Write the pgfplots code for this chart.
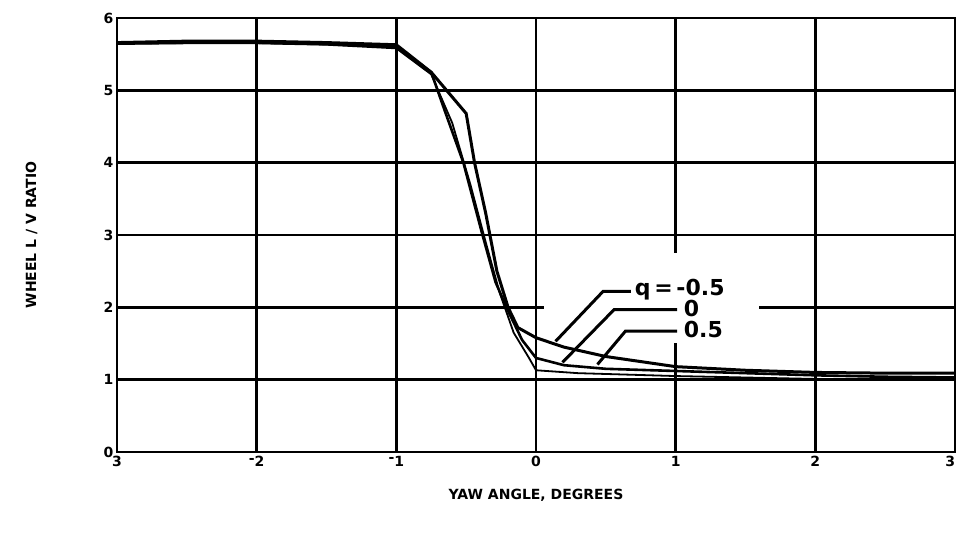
\documentclass[border=0pt]{standalone}
\usepackage{pgfplots}
\pgfplotsset{compat=1.18}
\usepackage{fontspec}
\setmainfont{DejaVu Sans}
\begin{document}
\begin{tikzpicture}
\useasboundingbox (-117pt,-85pt) rectangle (840pt,452pt);
\begin{axis}[
  scale only axis, width=838pt, height=434pt,
  at={(0,0)}, anchor=south west,
  xmin=-3, xmax=3, ymin=0, ymax=6,
  xtick={-3,-2,-1,0,1,2,3},
  xticklabels={3,\raisebox{0.5ex}{-}2,\raisebox{0.5ex}{-}1,0,1,2,\llap{3}},
  ytick={0,1,2,3,4,5,6},
  /pgf/number format/assume math mode=true,
  ticklabel style={font=\fontsize{14}{16}\selectfont\bfseries},
  xticklabel style={yshift=-1pt},
  grid=major, major grid style={black, line width=2.6pt},
  axis line style={black, line width=2.8pt},
  tick style={draw=none},
  xlabel={YAW ANGLE, DEGREES},
  ylabel={WHEEL L / V RATIO},
  label style={font=\fontsize{14}{16}\selectfont\bfseries},
  xlabel style={at={(axis description cs:0.5,0)}, anchor=north, yshift=-34pt},
  ylabel style={at={(axis description cs:0,0.5)}, anchor=south, yshift=76pt},
  clip=false,
]
% white area behind the annotation (grid is broken there)
\fill[white] (axis cs:0.06,1.5) rectangle (axis cs:1.6,2.75);
% q = -0.5
\addplot[black, line width=3pt] coordinates {
(-3,5.66) (-2.5,5.68) (-2,5.68) (-1.5,5.66) (-1,5.63) (-0.75,5.25) (-0.5,4.68)
(-0.44,4.0) (-0.36,3.3) (-0.28,2.5) (-0.2,2.0) (-0.13,1.72) (0,1.58) (0.2,1.45)
(0.5,1.32) (1,1.18) (1.5,1.13) (2,1.1) (2.5,1.09) (3,1.09)};
% q = 0
\addplot[black, line width=2.6pt] coordinates {
(-3,5.65) (-2.5,5.66) (-2,5.66) (-1.5,5.64) (-1,5.6) (-0.75,5.25) (-0.65,4.7)
(-0.52,4.0) (-0.39,3.05) (-0.29,2.35) (-0.2,1.95) (-0.1,1.55) (0,1.3) (0.2,1.2)
(0.5,1.15) (1,1.12) (1.5,1.09) (2,1.06) (2.5,1.04) (3,1.03)};
% q = 0.5
\addplot[black, line width=1.8pt] coordinates {
(-3,5.64) (-2.5,5.65) (-2,5.65) (-1.5,5.63) (-1,5.58) (-0.75,5.22) (-0.6,4.55)
(-0.47,3.7) (-0.36,2.9) (-0.26,2.2) (-0.16,1.65) (-0.05,1.3) (0,1.13) (0.3,1.09)
(1,1.05) (1.5,1.03) (2,1.01) (2.5,1.0) (3,1.0)};
% labels
\draw[black, line width=3pt] (axis cs:0.68,2.22) -- (axis cs:0.48,2.22) -- (axis cs:0.14,1.53);
\draw[black, line width=3pt] (axis cs:1.01,1.97) -- (axis cs:0.56,1.97) -- (axis cs:0.19,1.24);
\draw[black, line width=3pt] (axis cs:1.01,1.67) -- (axis cs:0.64,1.67) -- (axis cs:0.44,1.21);
\node[anchor=west, inner sep=1pt, font=\fontsize{22}{24}\selectfont\bfseries] at (axis cs:0.70,2.24) {q\,=\,-0.5};
\node[anchor=west, inner sep=1pt, font=\fontsize{22}{24}\selectfont\bfseries] at (axis cs:1.05,1.99) {0};
\node[anchor=west, inner sep=1pt, font=\fontsize{22}{24}\selectfont\bfseries] at (axis cs:1.05,1.69) {0.5};
\end{axis}
\end{tikzpicture}
\end{document}
